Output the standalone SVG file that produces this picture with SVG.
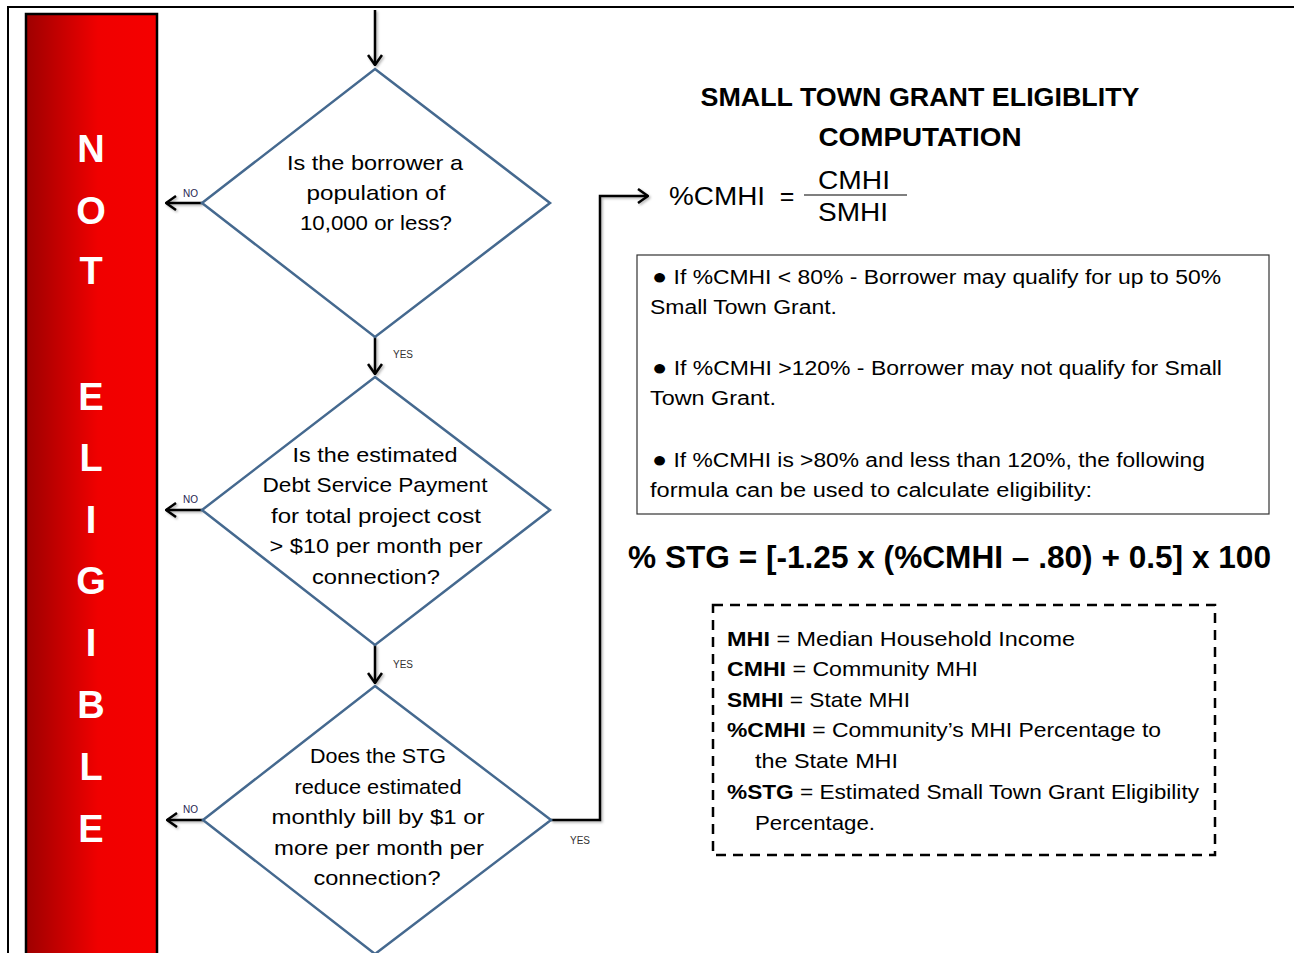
<svg xmlns="http://www.w3.org/2000/svg" width="1294" height="953" viewBox="0 0 1294 953">
<defs>
<linearGradient id="redg" x1="0" y1="0" x2="1" y2="0">
<stop offset="0" stop-color="#9e0000"/>
<stop offset="0.55" stop-color="#f00000"/>
<stop offset="1" stop-color="#f50000"/>
</linearGradient>
<marker id="arr" viewBox="0 0 12 16" refX="11" refY="8" markerWidth="12" markerHeight="16" markerUnits="userSpaceOnUse" orient="auto">
<path d="M1,1 L11,8 L1,15" fill="none" stroke="#000" stroke-width="2.5"/>
</marker>
<filter id="sh" x="-20%" y="-20%" width="140%" height="140%">
<feDropShadow dx="1.5" dy="1.5" stdDeviation="1" flood-color="#000" flood-opacity="0.3"/>
</filter>
</defs>
<style>
text{font-family:"Liberation Sans",Arial,sans-serif;fill:#000}
.q{font-size:21px;text-anchor:middle}
.big{font-size:38px;font-weight:bold;fill:#fff;text-anchor:middle}
.dia{fill:#fff;stroke:#45698f;stroke-width:2.5}
.con{fill:none;stroke:#000;stroke-width:2.5;marker-end:url(#arr)}
.no{font-size:10px;fill:#1e1e50}
.yes{font-size:10px;fill:#333}
.t{font-size:20px}
.d{font-size:21px}
.b{font-weight:bold}
.bul{font-size:22px}
</style>
<rect width="1294" height="953" fill="#fff"/>
<path d="M8,953 L8,7 L1294,7" fill="none" stroke="#000" stroke-width="2"/>

<g id="not-eligible">
<rect x="26" y="14" width="131" height="945" fill="url(#redg)" stroke="#000" stroke-width="2.5"/>
<text class="big" x="91" y="162">N</text>
<text class="big" x="91" y="224">O</text>
<text class="big" x="91" y="284">T</text>
<text class="big" x="91" y="410">E</text>
<text class="big" x="91" y="471">L</text>
<text class="big" x="91" y="533">I</text>
<text class="big" x="91" y="594">G</text>
<text class="big" x="91" y="656">I</text>
<text class="big" x="91" y="718">B</text>
<text class="big" x="91" y="780">L</text>
<text class="big" x="91" y="842">E</text>
</g>

<g id="connectors" filter="url(#sh)">
<path class="con" d="M375,10 L375,65"/>
<path class="con" d="M375,337 L375,374"/>
<path class="con" d="M375,645 L375,683"/>
<path class="con" d="M202,203 L166,203"/>
<path class="con" d="M202,510 L166,510"/>
<path class="con" d="M203,820 L167,820"/>
<path class="con" d="M551,820 L600,820 L600,196 L648,196"/>
</g>
<g id="connector-labels">
<text class="no" x="183" y="197">NO</text>
<text class="no" x="183" y="503">NO</text>
<text class="no" x="183" y="813">NO</text>
<text class="yes" x="393" y="358">YES</text>
<text class="yes" x="393" y="668">YES</text>
<text class="yes" x="570" y="844">YES</text>
</g>

<g id="q1">
<polygon class="dia" points="375,69 550,203 375,337 202,203"/>
<text class="q" x="375" y="170" textLength="176" lengthAdjust="spacingAndGlyphs">Is the borrower a</text>
<text class="q" x="376" y="200" textLength="139" lengthAdjust="spacingAndGlyphs">population of</text>
<text class="q" x="376" y="230" textLength="152" lengthAdjust="spacingAndGlyphs">10,000 or less?</text>
</g>

<g id="q2">
<polygon class="dia" points="375,377 550,510 375,645 202,510"/>
<text class="q" x="375" y="462" textLength="165" lengthAdjust="spacingAndGlyphs">Is the estimated</text>
<text class="q" x="375" y="492" textLength="225" lengthAdjust="spacingAndGlyphs">Debt Service Payment</text>
<text class="q" x="376" y="523" textLength="210" lengthAdjust="spacingAndGlyphs">for total project cost</text>
<text class="q" x="376" y="553" textLength="213" lengthAdjust="spacingAndGlyphs">&gt; $10 per month per</text>
<text class="q" x="376" y="584" textLength="128" lengthAdjust="spacingAndGlyphs">connection?</text>
</g>

<g id="q3">
<polygon class="dia" points="375,686 551,820 375,954 203,820"/>
<text class="q" x="378" y="763" textLength="136" lengthAdjust="spacingAndGlyphs">Does the STG</text>
<text class="q" x="378" y="794" textLength="167" lengthAdjust="spacingAndGlyphs">reduce estimated</text>
<text class="q" x="378" y="824" textLength="213" lengthAdjust="spacingAndGlyphs">monthly bill by $1 or</text>
<text class="q" x="379" y="855" textLength="210" lengthAdjust="spacingAndGlyphs">more per month per</text>
<text class="q" x="377" y="885" textLength="127" lengthAdjust="spacingAndGlyphs">connection?</text>
</g>

<g id="title">
<text x="920" y="106" font-size="26" font-weight="bold" text-anchor="middle" textLength="439" lengthAdjust="spacingAndGlyphs">SMALL TOWN GRANT ELIGIBLITY</text>
<text x="920" y="146" font-size="26" font-weight="bold" text-anchor="middle" textLength="203" lengthAdjust="spacingAndGlyphs">COMPUTATION</text>
</g>

<g id="cmhi-formula">
<text x="669" y="205" font-size="25" textLength="96" lengthAdjust="spacingAndGlyphs">%CMHI</text>
<text x="787" y="205" font-size="25" text-anchor="middle">=</text>
<line x1="804" y1="195" x2="907" y2="195" stroke="#555" stroke-width="1.5"/>
<text x="854" y="189" font-size="25" text-anchor="middle" textLength="72" lengthAdjust="spacingAndGlyphs">CMHI</text>
<text x="853" y="221" font-size="25" text-anchor="middle" textLength="70" lengthAdjust="spacingAndGlyphs">SMHI</text>
</g>

<g id="rules">
<rect x="637" y="255" width="632" height="259" fill="#fff" stroke="#333" stroke-width="1.2"/>
<text class="t" x="652" y="284" textLength="569" lengthAdjust="spacingAndGlyphs"><tspan class="bul">●</tspan> If %CMHI &lt; 80% - Borrower may qualify for up to 50%</text>
<text class="t" x="650" y="314" textLength="187" lengthAdjust="spacingAndGlyphs">Small Town Grant.</text>
<text class="t" x="652" y="375" textLength="570" lengthAdjust="spacingAndGlyphs"><tspan class="bul">●</tspan> If %CMHI &gt;120% - Borrower may not qualify for Small</text>
<text class="t" x="650" y="405" textLength="126" lengthAdjust="spacingAndGlyphs">Town Grant.</text>
<text class="t" x="652" y="467" textLength="553" lengthAdjust="spacingAndGlyphs"><tspan class="bul">●</tspan> If %CMHI is &gt;80% and less than 120%, the following</text>
<text class="t" x="650" y="497" textLength="442" lengthAdjust="spacingAndGlyphs">formula can be used to calculate eligibility:</text>
</g>

<g id="stg-formula">
<text x="628" y="568" font-size="31" font-weight="bold" textLength="643" lengthAdjust="spacingAndGlyphs">% STG = [-1.25 x (%CMHI – .80) + 0.5] x 100</text>
</g>

<g id="definitions">
<rect x="713" y="605" width="502" height="250" fill="none" stroke="#000" stroke-width="2.5" stroke-dasharray="10,7"/>
<text class="d" x="727" y="646" textLength="348" lengthAdjust="spacingAndGlyphs"><tspan class="b">MHI</tspan> = Median Household Income</text>
<text class="d" x="727" y="676" textLength="251" lengthAdjust="spacingAndGlyphs"><tspan class="b">CMHI</tspan> = Community MHI</text>
<text class="d" x="727" y="707" textLength="183" lengthAdjust="spacingAndGlyphs"><tspan class="b">SMHI</tspan> = State MHI</text>
<text class="d" x="727" y="737" textLength="434" lengthAdjust="spacingAndGlyphs"><tspan class="b">%CMHI</tspan> = Community’s MHI Percentage to</text>
<text class="d" x="755" y="768" textLength="143" lengthAdjust="spacingAndGlyphs">the State MHI</text>
<text class="d" x="727" y="799" textLength="472" lengthAdjust="spacingAndGlyphs"><tspan class="b">%STG</tspan> = Estimated Small Town Grant Eligibility</text>
<text class="d" x="755" y="830" textLength="120" lengthAdjust="spacingAndGlyphs">Percentage.</text>
</g>
</svg>
